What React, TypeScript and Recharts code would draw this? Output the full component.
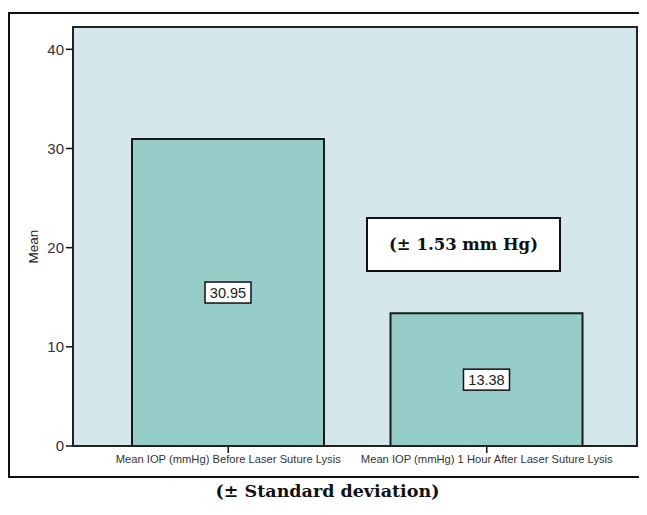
import React from "react"
import { Bar, BarChart, CartesianGrid, LabelList, XAxis, YAxis, Label } from "recharts"

const categories = [
  "Mean IOP (mmHg) Before Laser Suture Lysis",
  "Mean IOP (mmHg) 1 Hour After Laser Suture Lysis",
]
const means = [30.95, 13.38]
const yTicks = [0, 10, 20, 30, 40]
const yLabel = "Mean"
const sdNote = "(\u00b1 1.53 mm Hg)"
const caption = "(\u00b1 Standard deviation)"

const data = categories.map((name, i) => ({ name, mean: means[i] }))

const sans = "'Liberation Sans', Arial, sans-serif"
const serif = "'DejaVu Serif', serif"

// plot area placement inside the chart
const M = { top: 19, right: 10, bottom: 1, left: 5 }
const CHART_W = 639
const CHART_H = 470
const Y_W = 60
const X_H = 31

function ValueBox(props: any) {
  const { x, y, width, height, value } = props
  const cx = x + width / 2
  const cy = y + height / 2
  const text = Number(value).toFixed(2)
  const w = 46
  const h = 21
  return (
    <g>
      <rect x={cx - w / 2} y={cy - h / 2} width={w} height={h} fill="#fff" stroke="#111" strokeWidth={1.5} />
      <text x={cx} y={cy + 5} textAnchor="middle" fontFamily={sans} fontSize={14.5} fill="#222">
        {text}
      </text>
    </g>
  )
}

export default function App() {
  const plotLeft = M.left + Y_W
  const plotW = CHART_W - plotLeft - M.right
  const plotH = CHART_H - M.top - M.bottom - X_H
  return (
    <div style={{ position: "relative", width: 639, height: 496, overflow: "hidden" }}>
      <div
        style={{
          position: "absolute",
          left: 0,
          top: 4,
          width: 639,
          height: 466,
          boxSizing: "border-box",
          borderTop: "2px solid #111",
          borderLeft: "2px solid #111",
          borderBottom: "2px solid #111",
          background: "#fff",
        }}
      />
      <div style={{ position: "absolute", left: 0, top: 0 }}>
        <BarChart width={CHART_W} height={CHART_H} data={data} margin={M}>
          <CartesianGrid fill="#d4e7ea" horizontal={false} vertical={false} />
          <XAxis
            dataKey="name"
            height={X_H}
            padding={{ left: 26, right: 21 }}
            tick={{ fontSize: 11.2, fill: "#333", fontFamily: sans }}
            tickSize={7}
            tickLine={{ stroke: "#111", strokeWidth: 1.5 }}
            axisLine={{ stroke: "#111", strokeWidth: 2 }}
            interval={0}
          />
          <YAxis
            width={Y_W}
            domain={[0, 42.25]}
            ticks={yTicks}
            tickSize={7}
            tickMargin={2}
            tick={{ fontSize: 15, fill: "#333", fontFamily: sans }}
            tickLine={{ stroke: "#111", strokeWidth: 1.5 }}
            axisLine={{ stroke: "#111", strokeWidth: 2 }}
          >
            <Label
              content={({ viewBox }: any) => {
                const x = viewBox.x + 20
                const y = viewBox.y + viewBox.height / 2 + 10
                return (
                  <text
                    x={x}
                    y={y}
                    transform={`rotate(-90 ${x} ${y})`}
                    textAnchor="middle"
                    dominantBaseline="central"
                    fontFamily={sans}
                    fontSize={13.5}
                    fill="#222"
                  >
                    {yLabel}
                  </text>
                )
              }}
            />
          </YAxis>
          <Bar
            dataKey="mean"
            fill="#96cdc9"
            stroke="#1a1a1a"
            strokeWidth={2}
            barSize={192}
            isAnimationActive={false}
          >
            <LabelList dataKey="mean" content={ValueBox} />
          </Bar>
        </BarChart>
      </div>
      <div
        style={{
          position: "absolute",
          left: plotLeft - 1,
          top: M.top - 1,
          width: plotW + 2,
          height: plotH + 2,
          boxSizing: "border-box",
          border: "2px solid #222",
          pointerEvents: "none",
        }}
      />
      <div
        style={{
          position: "absolute",
          left: 358,
          top: 209,
          width: 195,
          height: 55,
          boxSizing: "border-box",
          border: "2px solid #111",
          background: "#fff",
          display: "flex",
          alignItems: "center",
          justifyContent: "center",
          fontFamily: serif,
          fontWeight: "bold",
          fontSize: 16.5,
          color: "#111",
        }}
      >
        {sdNote}
      </div>
      <div
        style={{
          position: "absolute",
          left: 0,
          top: 473,
          width: 639,
          textAlign: "center",
          fontFamily: serif,
          fontWeight: "bold",
          fontSize: 17.5,
          color: "#111",
        }}
      >
        {caption}
      </div>
    </div>
  )
}
